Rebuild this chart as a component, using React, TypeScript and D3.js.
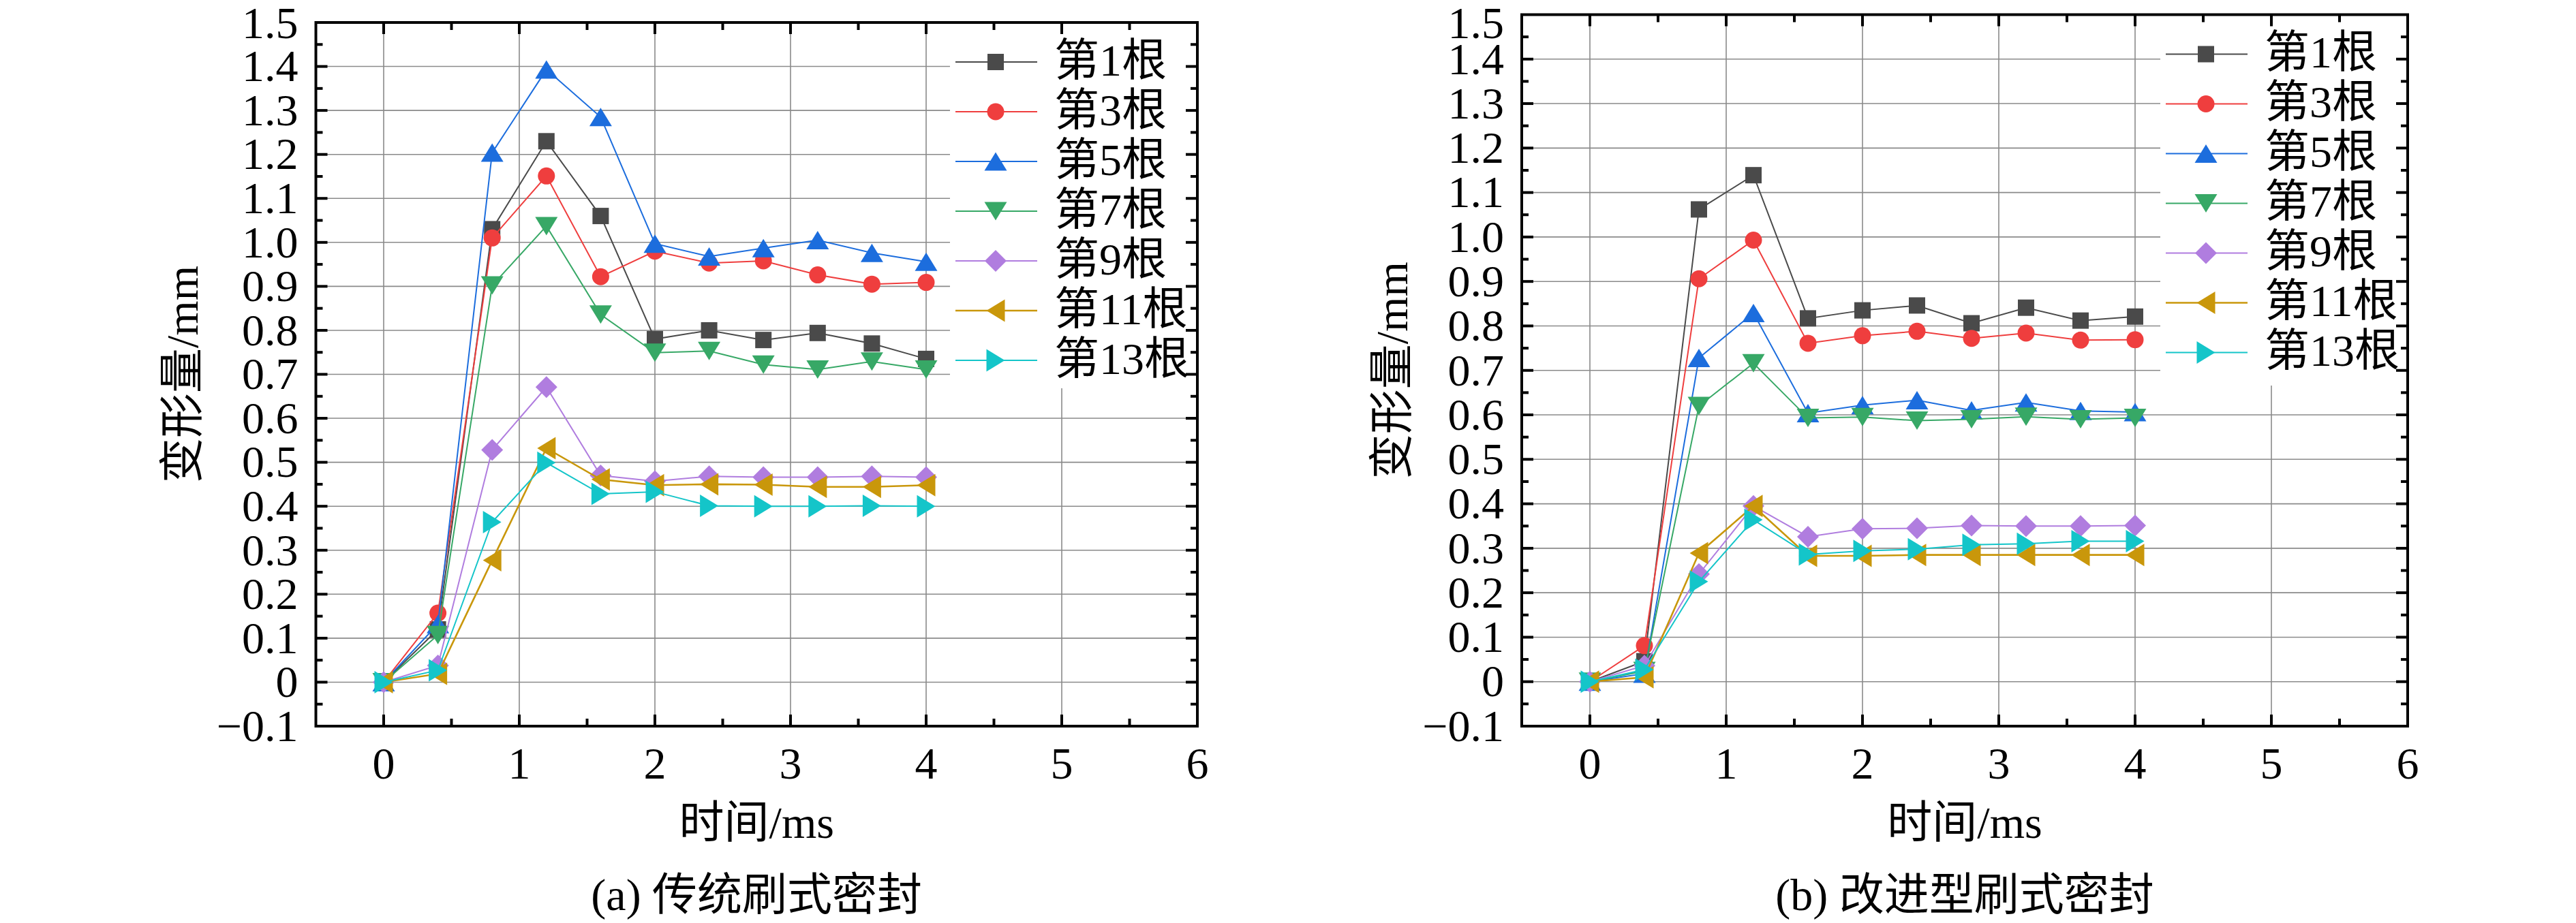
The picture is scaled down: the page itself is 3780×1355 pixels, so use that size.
import { useEffect, useRef } from "react"
import * as d3 from "d3"

// time axis (ms)
const times = [0, 0.4, 0.8, 1.2, 1.6, 2.0, 2.4, 2.8, 3.2, 3.6, 4.0]
const xTickLabels = ["0", "1", "2", "3", "4", "5", "6"]

const rootNames = ["第1根", "第3根", "第5根", "第7根", "第9根", "第11根", "第13根"]
const rootColors = ["#4a4a4a", "#ef3e3e", "#1c6ddd", "#37a866", "#b07ddf", "#c9970b", "#14c5c9"]
const rootMarkers = ["square", "circle", "up", "down", "diamond", "left", "right"]

// (a) conventional brush seal, deformation in mm
const convRoot1 = [0, 0.12, 1.03, 1.23, 1.06, 0.78, 0.8, 0.778, 0.794, 0.77, 0.735]
const convRoot3 = [0, 0.157, 1.01, 1.151, 0.922, 0.98, 0.953, 0.958, 0.926, 0.905, 0.909]
const convRoot5 = [0, 0.132, 1.204, 1.393, 1.285, 0.997, 0.968, 0.987, 1.005, 0.976, 0.956]
const convRoot7 = [0, 0.107, 0.902, 1.037, 0.836, 0.749, 0.753, 0.722, 0.711, 0.729, 0.711]
const convRoot9 = [0, 0.038, 0.528, 0.671, 0.47, 0.457, 0.468, 0.466, 0.466, 0.468, 0.466]
const convRoot11 = [0, 0.019, 0.277, 0.532, 0.461, 0.448, 0.45, 0.449, 0.444, 0.444, 0.448]
const convRoot13 = [0, 0.027, 0.364, 0.499, 0.428, 0.433, 0.401, 0.4, 0.4, 0.401, 0.4]

// (b) improved brush seal, deformation in mm
const impRoot1 = [0, 0.046, 1.062, 1.139, 0.817, 0.835, 0.846, 0.806, 0.841, 0.812, 0.821]
const impRoot3 = [0, 0.081, 0.906, 0.993, 0.761, 0.778, 0.788, 0.772, 0.784, 0.768, 0.769]
const impRoot5 = [0, 0.018, 0.728, 0.829, 0.604, 0.622, 0.633, 0.61, 0.628, 0.609, 0.606]
const impRoot7 = [0, 0.024, 0.62, 0.716, 0.593, 0.595, 0.587, 0.59, 0.596, 0.59, 0.593]
const impRoot9 = [0, 0.036, 0.242, 0.395, 0.326, 0.344, 0.345, 0.351, 0.35, 0.35, 0.351]
const impRoot11 = [0, 0.01, 0.289, 0.395, 0.283, 0.283, 0.285, 0.285, 0.285, 0.285, 0.285]
const impRoot13 = [0, 0.027, 0.225, 0.364, 0.286, 0.294, 0.298, 0.308, 0.31, 0.316, 0.316]

const FONT = "'Liberation Serif', 'Noto Sans CJK SC', serif"

function markerPath(kind: string) {
  const w = 33
  const h = 27
  switch (kind) {
    case "square":
      return "M-12,-12h24v24h-24z"
    case "circle":
      return "M12.5,0A12.5,12.5 0 1,1 -12.5,0A12.5,12.5 0 1,1 12.5,0Z"
    case "up":
      return `M0,${-h / 2}L${w / 2},${h / 2}L${-w / 2},${h / 2}Z`
    case "down":
      return `M0,${h / 2}L${w / 2},${-h / 2}L${-w / 2},${-h / 2}Z`
    case "left":
      return `M${-h / 2},0L${h / 2},${-w / 2}L${h / 2},${w / 2}Z`
    case "right":
      return `M${h / 2},0L${-h / 2},${-w / 2}L${-h / 2},${w / 2}Z`
    default:
      return "M0,-16L16,0L0,16L-16,0Z"
  }
}

interface PanelOpts {
  left: number
  right: number
  top: number
  bottom: number
  legendBottom: number
  yTitleX: number
  caption: string
  series: number[][]
}

function drawPanel(svg: d3.Selection<SVGSVGElement, unknown, null, undefined>, p: PanelOpts) {
  const x = d3.scaleLinear().domain([-0.5, 6]).range([p.left, p.right])
  const y = d3.scaleLinear().domain([-0.1, 1.5]).range([p.bottom, p.top])
  const g = svg.append("g")

  const xMajor = d3.range(0, 7)
  const xMinor = d3.range(0, 6).map((i) => i + 0.5)
  const yMajor = d3.range(-1, 16).map((i) => i / 10)
  const yInner = d3.range(0, 15).map((i) => i / 10)
  const yMinor = d3.range(-1, 15).map((i) => (i + 0.5) / 10)

  // grid lines
  g.append("g")
    .selectAll("line")
    .data(xMajor.slice(0, 6))
    .join("line")
    .attr("x1", (d) => x(d))
    .attr("x2", (d) => x(d))
    .attr("y1", p.top)
    .attr("y2", p.bottom)
    .attr("stroke", "#8a8a8a")
    .attr("stroke-width", 1.6)
  g.append("g")
    .selectAll("line")
    .data(yInner)
    .join("line")
    .attr("x1", p.left)
    .attr("x2", p.right)
    .attr("y1", (d) => y(d))
    .attr("y2", (d) => y(d))
    .attr("stroke", "#8a8a8a")
    .attr("stroke-width", 1.6)

  // legend background hides the grid
  const legLeft = p.right - 363
  g.append("rect")
    .attr("x", legLeft)
    .attr("y", p.top)
    .attr("width", p.right - legLeft)
    .attr("height", p.legendBottom - p.top)
    .attr("fill", "#fff")

  // series
  const line = d3
    .line<number>()
    .x((_, i) => x(times[i]))
    .y((d) => y(d))
  p.series.forEach((vals, k) => {
    g.append("path")
      .datum(vals)
      .attr("d", line)
      .attr("fill", "none")
      .attr("stroke", rootColors[k])
      .attr("stroke-width", k === 5 ? 2.6 : 2)
    g.append("g")
      .selectAll("path")
      .data(vals)
      .join("path")
      .attr("transform", (d, i) => `translate(${x(times[i])},${y(d)})`)
      .attr("d", markerPath(rootMarkers[k]))
      .attr("fill", rootColors[k])
  })

  // legend
  rootNames.forEach((name, k) => {
    const ly = p.top + 58 + k * 73
    g.append("line")
      .attr("x1", p.right - 355)
      .attr("x2", p.right - 235)
      .attr("y1", ly)
      .attr("y2", ly)
      .attr("stroke", rootColors[k])
      .attr("stroke-width", k === 5 ? 2.6 : 2)
    g.append("path")
      .attr("transform", `translate(${p.right - 296},${ly})`)
      .attr("d", markerPath(rootMarkers[k]))
      .attr("fill", rootColors[k])
    g.append("text")
      .attr("x", p.right - 210)
      .attr("y", ly)
      .attr("dy", "0.3em")
      .attr("font-family", FONT)
      .attr("font-size", 66)
      .text(name)
  })

  // frame and inward ticks
  const ticks = g.append("g").attr("stroke", "#000").attr("stroke-width", 4)
  const vTick = (vals: number[], len: number) => {
    vals.forEach((v) => {
      ticks.append("line").attr("x1", x(v)).attr("x2", x(v)).attr("y1", p.bottom).attr("y2", p.bottom - len)
      ticks.append("line").attr("x1", x(v)).attr("x2", x(v)).attr("y1", p.top).attr("y2", p.top + len)
    })
  }
  const hTick = (vals: number[], len: number) => {
    vals.forEach((v) => {
      ticks.append("line").attr("x1", p.left).attr("x2", p.left + len).attr("y1", y(v)).attr("y2", y(v))
      ticks.append("line").attr("x1", p.right).attr("x2", p.right - len).attr("y1", y(v)).attr("y2", y(v))
    })
  }
  vTick(xMajor.slice(0, 6), 17)
  vTick(xMinor, 11)
  hTick(yInner, 17)
  hTick(yMinor, 10)
  g.append("rect")
    .attr("x", p.left)
    .attr("y", p.top)
    .attr("width", p.right - p.left)
    .attr("height", p.bottom - p.top)
    .attr("fill", "none")
    .attr("stroke", "#000")
    .attr("stroke-width", 4)

  // tick labels
  g.append("g")
    .selectAll("text")
    .data(xMajor)
    .join("text")
    .attr("x", (d) => x(d))
    .attr("y", 1143)
    .attr("text-anchor", "middle")
    .attr("font-family", FONT)
    .attr("font-size", 66)
    .text((_, i) => xTickLabels[i])
  g.append("g")
    .selectAll("text")
    .data(yMajor)
    .join("text")
    .attr("x", p.left - 26)
    .attr("y", (d) => Math.max(y(d), 34))
    .attr("dy", "0.33em")
    .attr("text-anchor", "end")
    .attr("font-family", FONT)
    .attr("font-size", 66)
    .text((d) => (d === 0 ? "0" : d < 0 ? "\u2212" + Math.abs(d).toFixed(1) : d.toFixed(1)))

  // axis titles and caption
  const cx = (p.left + p.right) / 2
  g.append("text")
    .attr("transform", `translate(${p.yTitleX},${(p.top + p.bottom) / 2}) rotate(-90)`)
    .attr("dy", "0.3em")
    .attr("text-anchor", "middle")
    .attr("font-family", FONT)
    .attr("font-size", 66)
    .text("变形量/mm")
  g.append("text")
    .attr("x", cx)
    .attr("y", 1230)
    .attr("text-anchor", "middle")
    .attr("font-family", FONT)
    .attr("font-size", 66)
    .text("时间/ms")
  g.append("text")
    .attr("x", cx)
    .attr("y", 1336)
    .attr("text-anchor", "middle")
    .attr("font-family", FONT)
    .attr("font-size", 66)
    .text(p.caption)
}

export default function App() {
  const svgRef = useRef<SVGSVGElement>(null)

  useEffect(() => {
    if (!svgRef.current) return
    document.body.style.margin = "0"
    const svg = d3.select(svgRef.current)
    svg.selectAll("*").remove()

    drawPanel(svg, {
      left: 463.5,
      right: 1757,
      top: 33,
      bottom: 1066,
      legendBottom: 570,
      yTitleX: 270,
      caption: "(a) 传统刷式密封",
      series: [convRoot1, convRoot3, convRoot5, convRoot7, convRoot9, convRoot11, convRoot13],
    })
    drawPanel(svg, {
      left: 2233,
      right: 3533,
      top: 21.5,
      bottom: 1066,
      legendBottom: 566,
      yTitleX: 2045,
      caption: "(b) 改进型刷式密封",
      series: [impRoot1, impRoot3, impRoot5, impRoot7, impRoot9, impRoot11, impRoot13],
    })
  }, [])

  return <svg ref={svgRef} width={3780} height={1355} style={{ display: "block", background: "#fff" }}></svg>
}
